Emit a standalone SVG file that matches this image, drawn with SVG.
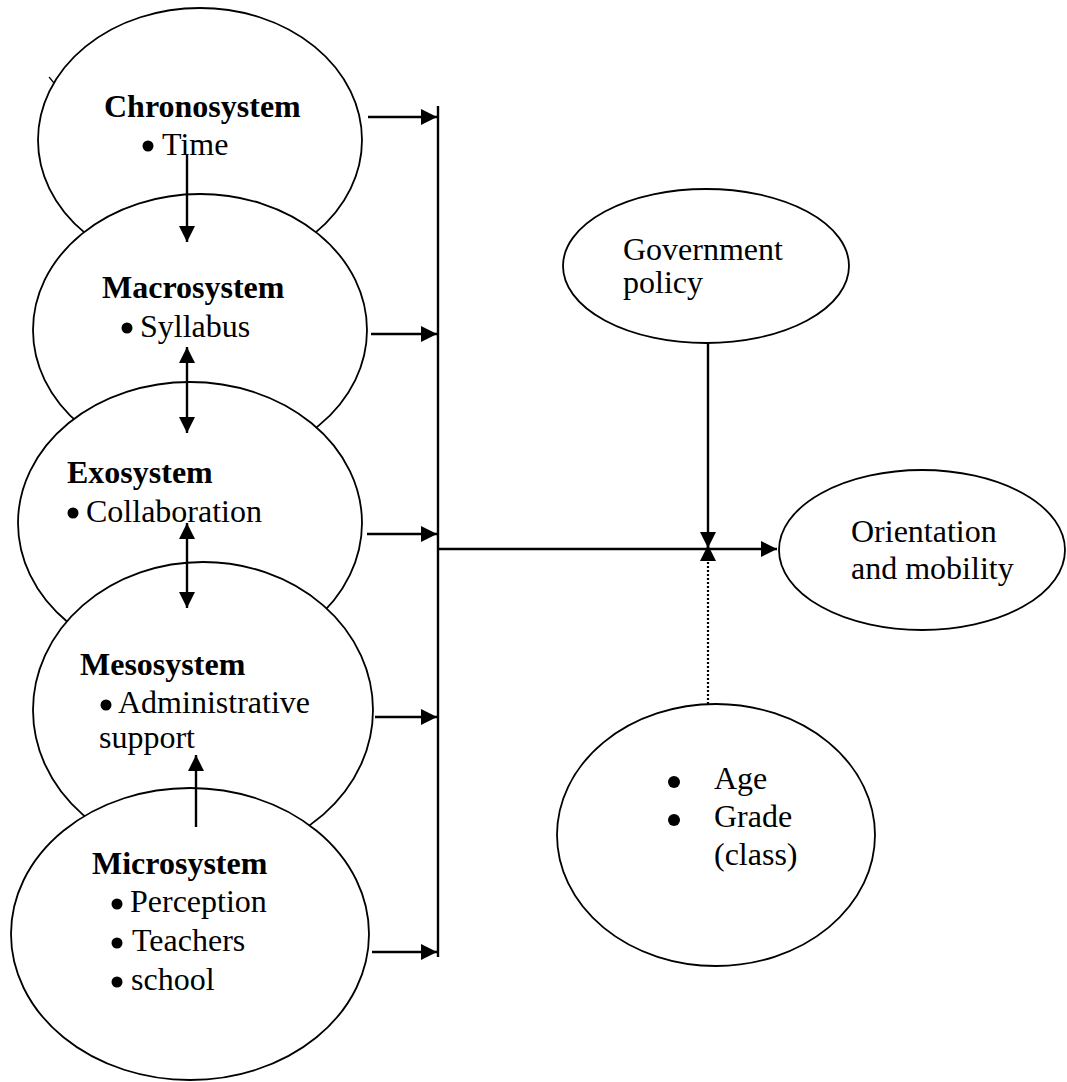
<svg xmlns="http://www.w3.org/2000/svg" width="1067" height="1082" viewBox="0 0 1067 1082">
<style>
.node{fill:#fff;stroke:#000;stroke-width:1.8}
.t{font-family:"Liberation Serif","Times New Roman",serif;font-size:32px;fill:#000}
.b{font-weight:bold}
.dot{fill:#000}
.c{fill:none;stroke:#000;stroke-width:2.4}
.dotted{fill:none;stroke:#000;stroke-width:2.2;stroke-dasharray:2 2}
</style>
<defs>
<marker id="ah" markerUnits="userSpaceOnUse" markerWidth="18" markerHeight="17" refX="16" refY="8" orient="auto">
<path d="M0,0 L16,8 L0,16 z" fill="#000"/>
</marker>
</defs>
<rect width="1067" height="1082" fill="#fff"/>
<g id="chronosystem">
<ellipse class="node" cx="200" cy="140" rx="162" ry="132"/>
<line x1="49" y1="77" x2="54" y2="83" stroke="#000" stroke-width="1.2"/>
<text class="t b" x="104" y="117">Chronosystem</text>
<circle class="dot" cx="148" cy="146" r="5.5"/>
<text class="t" x="162" y="155">Time</text>
</g>
<g id="macrosystem">
<ellipse class="node" cx="200" cy="330" rx="167" ry="136"/>
<text class="t b" x="102" y="298">Macrosystem</text>
<circle class="dot" cx="127" cy="328" r="5.5"/>
<text class="t" x="140" y="337">Syllabus</text>
</g>
<g id="exosystem">
<ellipse class="node" cx="190" cy="523" rx="172" ry="141"/>
<text class="t b" x="67" y="483">Exosystem</text>
<circle class="dot" cx="73" cy="513" r="5.5"/>
<text class="t" x="86" y="522">Collaboration</text>
</g>
<g id="mesosystem">
<ellipse class="node" cx="203" cy="710" rx="170" ry="148"/>
<text class="t b" x="80" y="675">Mesosystem</text>
<circle class="dot" cx="106" cy="705" r="5.5"/>
<text class="t" x="118" y="713">Administrative</text>
<text class="t" x="99" y="748">support</text>
</g>
<g id="microsystem">
<ellipse class="node" cx="190" cy="934" rx="179" ry="146"/>
<text class="t b" x="92" y="874">Microsystem</text>
<circle class="dot" cx="117" cy="904" r="5.5"/>
<text class="t" x="130" y="912">Perception</text>
<circle class="dot" cx="117" cy="943" r="5.5"/>
<text class="t" x="132" y="951">Teachers</text>
<circle class="dot" cx="117" cy="982" r="5.5"/>
<text class="t" x="131" y="990">school</text>
</g>
<g id="government-policy">
<ellipse class="node" cx="706" cy="266" rx="143" ry="77"/>
<text class="t" x="623" y="260">Government</text>
<text class="t" x="623" y="293">policy</text>
</g>
<g id="orientation-mobility">
<ellipse class="node" cx="922" cy="550" rx="143" ry="80"/>
<text class="t" x="851" y="542">Orientation</text>
<text class="t" x="851" y="579">and mobility</text>
</g>
<g id="age-grade">
<ellipse class="node" cx="716" cy="835" rx="159" ry="131"/>
<circle class="dot" cx="674" cy="782" r="6"/>
<text class="t" x="714" y="789">Age</text>
<circle class="dot" cx="674" cy="820" r="6"/>
<text class="t" x="714" y="827">Grade</text>
<text class="t" x="714" y="865">(class)</text>
</g>
<g id="connectors">
<line class="c" x1="438" y1="106" x2="438" y2="957"/>
<line class="c" x1="368" y1="117" x2="437" y2="117" marker-end="url(#ah)"/>
<line class="c" x1="371" y1="334" x2="437" y2="334" marker-end="url(#ah)"/>
<line class="c" x1="367" y1="534" x2="437" y2="534" marker-end="url(#ah)"/>
<line class="c" x1="375" y1="717" x2="437" y2="717" marker-end="url(#ah)"/>
<line class="c" x1="372" y1="952" x2="437" y2="952" marker-end="url(#ah)"/>
<line class="c" x1="187" y1="155" x2="187" y2="242" marker-end="url(#ah)"/>
<line class="c" x1="187" y1="390" x2="187" y2="347" marker-end="url(#ah)"/>
<line class="c" x1="187" y1="390" x2="187" y2="433" marker-end="url(#ah)"/>
<line class="c" x1="187" y1="566" x2="187" y2="523" marker-end="url(#ah)"/>
<line class="c" x1="187" y1="566" x2="187" y2="608" marker-end="url(#ah)"/>
<line class="c" x1="196" y1="827" x2="196" y2="755" marker-end="url(#ah)"/>
<line class="c" x1="439" y1="549" x2="777" y2="549" marker-end="url(#ah)"/>
<line class="c" x1="708" y1="343" x2="708" y2="548" marker-end="url(#ah)"/>
<line class="dotted" x1="708" y1="704" x2="708" y2="556"/>
<line class="c" x1="708" y1="560" x2="708" y2="545" marker-end="url(#ah)"/>
</g>
</svg>
